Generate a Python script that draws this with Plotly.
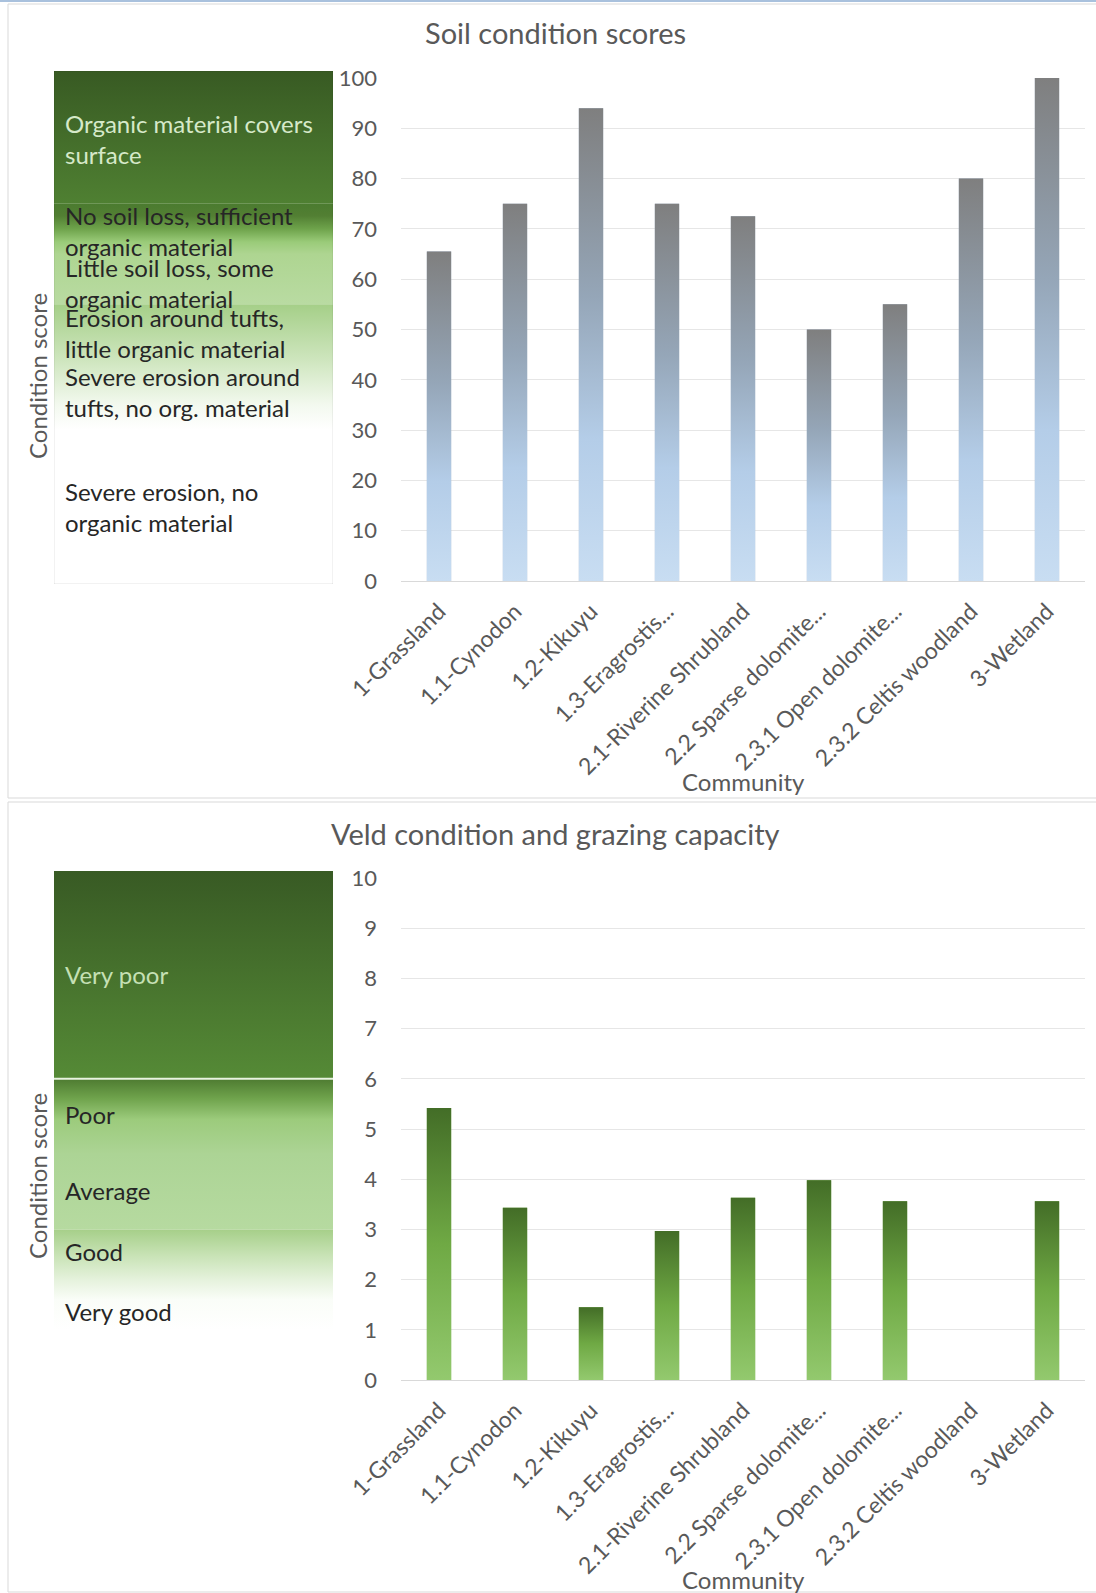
import plotly.graph_objects as go

# ---------------- data ----------------
communities = ["1-Grassland", "1.1-Cynodon", "1.2-Kikuyu", "1.3-Eragrostis...",
               "2.1-Riverine Shrubland", "2.2 Sparse dolomite...", "2.3.1 Open dolomite...",
               "2.3.2 Celtis woodland", "3-Wetland"]
soil_scores = [65.5, 75, 94, 75, 72.5, 50, 55, 80, 100]
veld_scores = [5.42, 3.43, 1.45, 2.97, 3.63, 3.98, 3.56, None, 3.56]

soil_ticks = list(range(0, 101, 10))
veld_ticks = list(range(0, 11, 1))

# key panel (soil): band limits and label lines
soil_band_lo = [75, 55, 30]
soil_band_hi = [101.4, 75, 55]
soil_labels = ["Organic material covers<br>surface",
               "No soil loss, sufficient<br>organic material",
               "Little soil loss, some<br>organic material",
               "Erosion around tufts,<br>little organic material",
               "Severe erosion around<br>tufts, no org. material",
               "Severe erosion, no<br>organic material"]
soil_label_y = [87.8, 69.6, 59.2, 49.3, 37.6, 14.7]

# key panel (veld)
veld_band_lo = [6, 3, 1.0]
veld_band_hi = [10.14, 6, 3]
veld_labels = ["Very poor", "Poor", "Average", "Good", "Very good"]
veld_label_y = [8.07, 5.28, 3.77, 2.55, 1.37]

# ---------------- styling ----------------
W, H = 1096, 1593
FONT = "Lato"
GREY = "#595959"


def px_x(p):
    return p / W


def px_y(p):
    return 1 - p / H


soil_band_scales = [
    [[0, "#4f8032"], [1, "#385a23"]],
    [[0, "#b9dba2"], [0.5, "#aed591"], [0.62, "#9acb79"], [0.75, "#6ea34b"], [0.88, "#527f33"], [1, "#4b7b2f"]],
    [[0, "#ffffff"], [0.2, "#f3f9ef"], [0.55, "#cfe6bf"], [1, "#a5cf88"]],
]
veld_band_scales = [
    [[0, "#558a36"], [1, "#385a24"]],
    [[0, "#b6daa0"], [0.5, "#acd495"], [0.73, "#9ccb7c"], [0.87, "#6fa34c"], [1, "#4e7b31"]],
    [[0, "#ffffff"], [0.3, "#fafdf8"], [0.5, "#e5f2dc"], [0.75, "#c7e2b4"], [1, "#a6cf89"]],
]
soil_label_colors = ["#d6e9c9"] + ["#262626"] * 5
veld_label_colors = ["#c5e0b4"] + ["#262626"] * 4

soil_bar_scale = [[0, "#c8ddf2"], [0.3, "#b4cde8"], [0.6, "#95a6b8"], [1, "#7f7f7f"]]
veld_bar_scale = [[0, "#93c96e"], [0.5, "#6fa944"], [1, "#436d27"]]
BAR_W = 0.32

fig = go.Figure()

# key panels
for lo, hi, cs in zip(soil_band_lo, soil_band_hi, soil_band_scales):
    fig.add_trace(go.Scatter(x=[0, 1, 1, 0], y=[lo, lo, hi, hi], fill="toself", mode="none",
                             fillgradient=dict(type="vertical", colorscale=cs),
                             xaxis="x2", yaxis="y3", hoverinfo="skip", showlegend=False))
for lo, hi, cs in zip(veld_band_lo, veld_band_hi, veld_band_scales):
    fig.add_trace(go.Scatter(x=[0, 1, 1, 0], y=[lo, lo, hi, hi], fill="toself", mode="none",
                             fillgradient=dict(type="vertical", colorscale=cs),
                             xaxis="x4", yaxis="y4", hoverinfo="skip", showlegend=False))

# bars
idx = list(range(len(communities)))
fig.add_trace(go.Bar(x=idx, y=soil_scores, width=BAR_W, marker=dict(color="#a3b6cb", line=dict(width=0)),
                     xaxis="x", yaxis="y", showlegend=False, name="Soil condition"))
fig.add_trace(go.Bar(x=idx, y=veld_scores, width=BAR_W, marker=dict(color="#6fa944", line=dict(width=0)),
                     xaxis="x3", yaxis="y2", showlegend=False, name="Veld condition"))

# gradient overlay on each bar (derived from data values)
for i, v in zip(idx, soil_scores):
    if v:
        fig.add_trace(go.Scatter(x=[i - BAR_W / 2, i + BAR_W / 2, i + BAR_W / 2, i - BAR_W / 2],
                                 y=[0, 0, v, v], fill="toself", mode="none",
                                 fillgradient=dict(type="vertical", colorscale=soil_bar_scale),
                                 xaxis="x", yaxis="y", hoverinfo="skip", showlegend=False))
for i, v in zip(idx, veld_scores):
    if v:
        fig.add_trace(go.Scatter(x=[i - BAR_W / 2, i + BAR_W / 2, i + BAR_W / 2, i - BAR_W / 2],
                                 y=[0, 0, v, v], fill="toself", mode="none",
                                 fillgradient=dict(type="vertical", colorscale=veld_bar_scale),
                                 xaxis="x3", yaxis="y2", hoverinfo="skip", showlegend=False))

annotations = []
for txt, y, c in zip(soil_labels, soil_label_y, soil_label_colors):
    annotations.append(dict(text=txt, x=0.032, y=y, xref="x2", yref="y3", xanchor="left",
                            yanchor="middle", align="left", showarrow=False,
                            font=dict(family=FONT, size=24, color=c)))
for txt, y, c in zip(veld_labels, veld_label_y, veld_label_colors):
    annotations.append(dict(text=txt, x=0.032, y=y, xref="x4", yref="y4", xanchor="left",
                            yanchor="middle", align="left", showarrow=False,
                            font=dict(family=FONT, size=24, color=c)))

# titles & axis titles
for txt, yy in [("Soil condition scores", 33), ("Veld condition and grazing capacity", 833)]:
    annotations.append(dict(text=txt, x=px_x(555), y=px_y(yy), xref="paper", yref="paper",
                            xanchor="center", yanchor="middle", showarrow=False,
                            font=dict(family=FONT, size=29, color=GREY)))
for yy in [376, 1176]:
    annotations.append(dict(text="Condition score", x=px_x(37), y=px_y(yy), xref="paper", yref="paper",
                            xanchor="center", yanchor="middle", textangle=-90, showarrow=False,
                            font=dict(family=FONT, size=24, color=GREY)))
for yy in [781, 1579]:
    annotations.append(dict(text="Community", x=px_x(743), y=px_y(yy), xref="paper", yref="paper",
                            xanchor="center", yanchor="middle", showarrow=False,
                            font=dict(family=FONT, size=24, color=GREY)))

shapes = [
    dict(type="rect", xref="paper", yref="paper", x0=px_x(8), x1=1.02, y0=px_y(798), y1=px_y(4),
         line=dict(color="#d9d9d9", width=1), layer="below"),
    dict(type="rect", xref="paper", yref="paper", x0=px_x(8), x1=1.02, y0=px_y(1592), y1=px_y(802),
         line=dict(color="#d9d9d9", width=1), layer="below"),
    dict(type="line", xref="paper", yref="paper", x0=0, x1=1, y0=px_y(1), y1=px_y(1),
         line=dict(color="#a9c1dd", width=2)),
    # key panel outline (soil)
    dict(type="rect", xref="x2", yref="y3", x0=0, x1=1, y0=-0.6, y1=101.4,
         line=dict(color="rgba(0,0,0,0.10)", width=1), layer="above"),
    # separator line between 'Very poor' and 'Poor'
    dict(type="line", xref="x4", yref="y4", x0=0, x1=1, y0=6, y1=6,
         line=dict(color="#e8f3e0", width=2), layer="above"),
]

xbar_domain = [px_x(401), px_x(1085)]
xkey_domain = [px_x(54), px_x(333)]
tickfont = dict(family=FONT, size=22, color=GREY)
xtickfont = dict(family=FONT, size=23, color=GREY)

common_x = dict(range=[-0.5, 8.5], tickmode="array", tickvals=idx, ticktext=communities,
                tickangle=-45, tickfont=xtickfont, showgrid=False, zeroline=False,
                showline=True, linecolor="#d9d9d9", linewidth=1, ticks="", fixedrange=True,
                ticklabelstandoff=7, automargin=False)
common_y = dict(showgrid=True, gridcolor="#e6e6e6", gridwidth=1, zeroline=False, showline=False,
                ticks="", tickfont=tickfont, ticklabelstandoff=23, fixedrange=True, automargin=False)
key_x = dict(range=[0, 1], visible=False, fixedrange=True, automargin=False)
key_y = dict(visible=False, fixedrange=True, automargin=False)

fig.update_layout(
    width=W, height=H, margin=dict(l=0, r=0, t=0, b=0, pad=0, autoexpand=False),
    paper_bgcolor="white", plot_bgcolor="rgba(0,0,0,0)",
    font=dict(family=FONT, color=GREY),
    barmode="overlay",
    xaxis=dict(domain=xbar_domain, anchor="y", **common_x),
    yaxis=dict(domain=[px_y(581), px_y(78)], range=[0, 100], tickvals=soil_ticks, anchor="x", **common_y),
    xaxis3=dict(domain=xbar_domain, anchor="y2", **common_x),
    yaxis2=dict(domain=[px_y(1380), px_y(878)], range=[0, 10], tickvals=veld_ticks, anchor="x3", **common_y),
    xaxis2=dict(domain=xkey_domain, anchor="y3", **key_x),
    yaxis3=dict(domain=[px_y(584), px_y(71)], range=[-0.6, 101.4], anchor="x2", **key_y),
    xaxis4=dict(domain=xkey_domain, anchor="y4", **key_x),
    yaxis4=dict(domain=[px_y(1330), px_y(871)], range=[0.996, 10.14], anchor="x4", **key_y),
    annotations=annotations,
    shapes=shapes,
    showlegend=False,
)

fig.write_html("out.html")
